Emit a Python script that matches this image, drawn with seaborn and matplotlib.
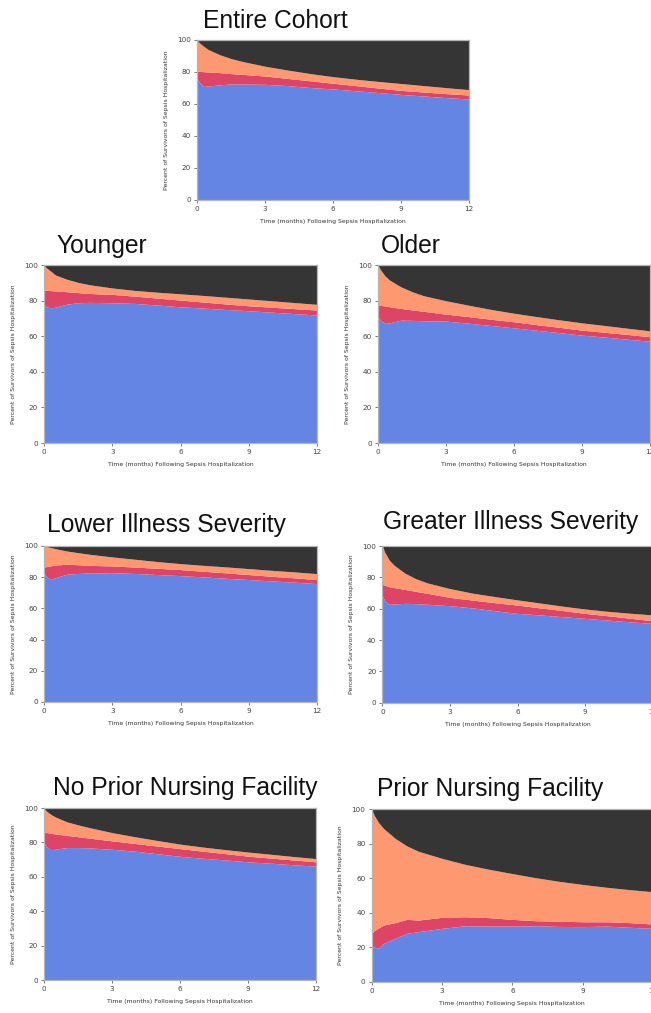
import numpy as np
import matplotlib
matplotlib.use("Agg")
import matplotlib.pyplot as plt
import seaborn as sns

# time grid (months after sepsis hospitalization)
months = [0, 0.1, 0.3, 0.5, 1, 1.5, 2, 3, 4, 5, 6, 7, 8, 9, 10, 11, 12]

# upper edge of each band (percent of survivors)
entire_blue = [76, 73.5, 71, 71.2, 72, 72.5, 72.5, 72.3, 71.5, 70.3, 69.4, 68.3, 67.2, 66, 65, 64, 63.1]
entire_red = [80.5, 80.4, 80.2, 80, 79.6, 79, 78.5, 77.5, 76, 74.5, 73, 71.5, 70, 68.5, 67.5, 66.5, 65.6]
entire_salmon = [100, 98.3, 96, 94, 90.8, 88.4, 86.6, 83.6, 81.2, 79, 77.1, 75.5, 74.1, 72.8, 71.5, 70.2, 69]

younger_blue = [78, 76.5, 76, 76.3, 78, 78.8, 79, 78.8, 78.4, 77.5, 76.5, 75.8, 75, 74.3, 73.5, 72.7, 71.9]
younger_red = [85.9, 85.8, 85.6, 85.4, 85, 84.5, 84, 83.5, 82.5, 81.4, 80.3, 79.2, 78.1, 77.1, 76.3, 75.5, 74.7]
younger_salmon = [100, 98.5, 96.5, 94.4, 92, 90.2, 88.9, 87.1, 85.7, 84.7, 83.8, 82.9, 81.9, 80.9, 79.9, 78.9, 77.9]

older_blue = [71, 69, 67.2, 67.5, 69, 68.9, 68.7, 68.5, 67.3, 66, 64.7, 63.3, 62, 60.6, 59.5, 58.3, 57.2]
older_red = [77.5, 77.3, 77, 76.6, 75.6, 74.8, 74, 72.4, 71, 69.5, 68.1, 66.5, 65, 63.4, 62.2, 61, 59.7]
older_salmon = [100, 97.5, 94, 91.6, 87.8, 85, 82.8, 79.9, 77.4, 75, 72.9, 71, 69.2, 67.5, 66, 64.5, 63]

lower_blue = [83, 80.5, 78.5, 79.7, 81.9, 82.4, 82.7, 82.9, 82.4, 81.7, 81, 80.2, 79.3, 78.5, 77.6, 76.8, 75.9]
lower_red = [86.5, 86.8, 87.3, 87.8, 88.3, 88, 87.6, 87.2, 86.5, 85.7, 84.9, 83.8, 82.8, 81.7, 80.6, 79.6, 78.5]
lower_salmon = [100, 99.7, 99, 98.3, 96.8, 95.7, 94.7, 93, 91.5, 90, 88.7, 87.6, 86.6, 85.5, 84.4, 83.4, 82.3]

greater_blue = [68, 65, 62.8, 63, 63.4, 63.2, 62.8, 61.9, 60.5, 58.7, 57, 56, 54.9, 53.8, 52.7, 51.6, 50.6]
greater_red = [75.5, 75, 74, 73.5, 72.3, 71, 69.8, 67.2, 65.5, 63.8, 62.3, 60.5, 58.8, 57, 55.5, 53.9, 52.3]
greater_salmon = [100, 96, 91, 87.9, 82.6, 79, 76.4, 72.8, 69.9, 67.7, 65.6, 63.6, 61.6, 59.8, 58.3, 57.1, 56]

noprior_blue = [80, 77.5, 75.8, 76, 77, 77, 76.8, 76, 74.9, 73.4, 71.9, 70.8, 69.8, 68.7, 67.9, 67, 66.2]
noprior_red = [86, 85.8, 85.3, 84.9, 84.1, 83.3, 82.5, 80.9, 79.4, 77.9, 76.4, 74.9, 73.5, 72, 70.9, 69.8, 68.7]
noprior_salmon = [100, 98.3, 96.3, 94.8, 92, 90.2, 88.6, 85.7, 83.3, 81.1, 79, 77.3, 75.8, 74.4, 73.1, 71.8, 70.6]

prior_blue = [21, 20, 19.5, 22.2, 25.1, 28, 29, 30.9, 32.4, 32.2, 32.2, 32.4, 32, 31.9, 32.2, 31.5, 30.9]
prior_red = [28, 29.5, 31.2, 32.8, 34.2, 36.1, 35.7, 37.3, 37.6, 37.1, 36.1, 35.3, 35.1, 34.7, 34.7, 34.2, 33.4]
prior_salmon = [100, 96.5, 92, 88.8, 83, 78.6, 75.5, 71.4, 67.9, 65.1, 62.6, 60.2, 58.1, 56.3, 54.7, 53.3, 52.1]

xticks = [0, 3, 6, 9, 12]
yticks = [0, 20, 40, 60, 80, 100]

sns.set_theme(style="white")
plt.rcParams["font.family"] = ["DejaVu Sans"]
colors = sns.color_palette(["#6585E4", "#DE4466", "#FD9870", "#353535"])

W, H = 651, 1013
fig = plt.figure(figsize=(W / 100, H / 100), dpi=100)


def px_axes(x0, y0, x1, y1):
    return fig.add_axes([x0 / W, 1 - y1 / H, (x1 - x0) / W, (y1 - y0) / H])


def panel(box, title, tpos, blue, red, salmon):
    ax = px_axes(*box)
    t = np.array(months)
    ax.fill_between(t, 0, blue, color=colors[0], lw=0)
    ax.fill_between(t, blue, red, color=colors[1], lw=0)
    ax.fill_between(t, red, salmon, color=colors[2], lw=0)
    ax.fill_between(t, salmon, 100, color=colors[3], lw=0)
    ax.set_xlim(0, 12)
    ax.set_ylim(0, 100)
    ax.set_xticks(xticks)
    ax.set_yticks(yticks)
    ax.tick_params(axis="both", labelsize=5.2, colors="#444444", length=2, width=0.5,
                   pad=2.5, direction="out", bottom=True, left=True)
    for s in ax.spines.values():
        s.set_color("#b5b5b5")
        s.set_linewidth(0.9)
    ax.set_xlabel("Time (months) Following Sepsis Hospitalization", fontsize=4.4,
                  color="#333333", labelpad=5)
    ax.set_ylabel("Percent of Survivors of Sepsis Hospitalization", fontsize=4.4,
                  color="#333333", labelpad=6)
    fig.text(tpos[0] / W, 1 - tpos[1] / H, title, family=["Liberation Sans", "DejaVu Sans"],
             fontsize=17.7, color="#111111", ha="left", va="baseline")
    return ax


panel((197, 40, 469, 200), "Entire Cohort", (203, 28), entire_blue, entire_red, entire_salmon)
panel((44, 265, 317, 443), "Younger", (57, 253), younger_blue, younger_red, younger_salmon)
panel((378, 265, 650, 443), "Older", (381, 253), older_blue, older_red, older_salmon)
panel((44, 546, 317, 702), "Lower Illness Severity", (47, 532), lower_blue, lower_red, lower_salmon)
panel((382.5, 546, 652.7, 702.7), "Greater Illness Severity", (383, 529),
      greater_blue, greater_red, greater_salmon)
panel((44, 808, 316, 980), "No Prior Nursing Facility", (53, 795),
      noprior_blue, noprior_red, noprior_salmon)
panel((371.7, 809, 653, 981.7), "Prior Nursing Facility", (377, 796),
      prior_blue, prior_red, prior_salmon)

fig.savefig("out.png", dpi=100)
